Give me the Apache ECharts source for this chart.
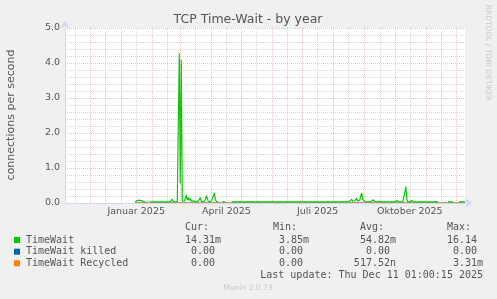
<!DOCTYPE html>
<html><head><meta charset="utf-8">
<script src="https://cdn.jsdelivr.net/npm/echarts@6/dist/echarts.min.js"></script>
<style>html,body{margin:0;padding:0;background:#F0F0F0;}#c{width:497px;height:299px;}</style>
</head><body><div id="c"></div>
<script>
// ---- data ----
const startDateUTC = [2024, 10, 6];   // first day shown (6 Nov 2024)
const dayCount = 400;
const timeWait = [
null,null,null,null,null,null,null,null,null,null,
null,null,null,null,null,null,null,null,null,null,
null,null,null,null,null,null,null,null,null,null,
null,null,null,null,null,null,null,null,null,null,
null,null,null,null,null,null,null,null,null,null,
null,null,null,null,null,null,null,null,null,null,
null,null,null,null,null,null,null,null,null,null,
0.03,0.05,0.07,0.08,0.08,0.08,0.07,0.05,0.04,0.03,
0.03,null,null,null,null,0.03,0.03,0.03,0.03,0.03,
0.03,0.03,0.02,0.03,0.03,0.03,0.03,0.03,0.02,0.03,
0.03,0.03,0.03,0.03,0.03,0.04,0.07,0.11,0.05,0.03,
0.03,0.03,0.03,0.04,4.28,0.56,4.09,0.06,0.03,0.05,
0.14,0.23,0.09,0.16,0.07,0.13,0.05,0.03,0.06,0.08,
0.05,0.03,0.03,0.05,0.10,0.16,0.05,0.03,0.03,0.04,
0.09,0.21,0.12,0.05,0.03,0.03,0.04,0.12,0.20,0.29,
0.10,0.04,0.06,0.03,null,null,null,0.03,0.03,0.03,
0.03,null,null,null,null,null,0.03,0.03,0.03,0.03,
0.03,0.03,0.03,0.03,0.04,0.05,0.03,0.03,0.03,0.03,
0.03,0.03,0.03,0.03,0.03,0.03,0.03,0.03,0.03,0.03,
0.03,0.03,0.03,0.04,0.03,0.03,0.03,0.03,0.03,0.03,
0.03,0.03,0.03,0.03,0.03,0.03,0.03,0.03,0.03,0.03,
0.03,0.03,0.03,0.03,0.03,0.03,0.03,0.03,0.03,0.03,
0.03,0.03,0.03,0.03,0.03,0.03,0.03,0.03,0.03,0.03,
0.03,0.03,0.03,0.03,0.03,0.03,0.03,0.03,0.03,0.03,
0.03,0.03,0.03,0.03,0.03,0.03,0.03,0.03,0.03,0.03,
0.03,0.03,0.03,0.03,0.03,0.03,0.03,0.03,0.03,0.03,
0.03,0.03,0.03,0.03,0.03,0.03,0.03,0.03,0.03,0.03,
0.03,0.03,0.03,0.03,0.03,0.03,0.03,0.05,0.03,0.03,
0.03,0.03,0.03,0.03,0.05,0.08,0.11,0.05,0.03,0.06,
0.10,0.14,0.05,0.03,0.08,0.20,0.29,0.10,0.15,0.04,
0.03,0.03,0.03,0.03,0.03,0.03,0.05,0.09,0.14,0.05,
0.03,0.03,0.03,0.05,0.03,0.03,0.05,0.03,0.06,0.03,
0.03,0.03,0.03,0.03,0.03,0.03,0.03,0.03,0.03,0.03,
0.04,0.07,0.04,0.03,0.03,0.03,0.03,0.03,0.05,0.30,
0.47,0.10,0.03,0.03,0.03,0.04,0.07,0.04,0.03,0.03,
0.03,0.03,0.03,0.03,0.03,0.03,0.03,0.04,0.03,0.03,
0.03,0.03,0.03,0.03,0.03,0.03,0.03,0.03,0.03,0.03,
0.04,0.06,0.03,null,null,null,null,null,null,null,
null,null,0.03,0.03,0.03,0.03,0.03,0.03,null,null,
null,null,null,0.03,0.03,0.03,0.03,0.03,0.03,0.03
];
const timeWaitKilled = [
null,null,null,null,null,null,null,null,null,null,
null,null,null,null,null,null,null,null,null,null,
null,null,null,null,null,null,null,null,null,null,
null,null,null,null,null,null,null,null,null,null,
null,null,null,null,null,null,null,null,null,null,
null,null,null,null,null,null,null,null,null,null,
null,null,null,null,null,null,null,null,null,null,
0,0,0,0,0,0,0,0,0,0, 0,0,0,0,0,0,0,0,0,0, 0,0,0,0,0,0,0,0,0,0,
0,0,0,0,0,0,0,0,0,0, 0,0,0,0,0,0,0,0,0,0, 0,0,0,0,0,0,0,0,0,0,
0,0,0,0,0,0,0,0,0,0, 0,0,0,0,0,0,0,0,0,0, 0,0,0,0,0,0,0,0,0,0,
0,0,0,0,0,0,0,0,0,0, 0,0,0,0,0,0,0,0,0,0, 0,0,0,0,0,0,0,0,0,0,
0,0,0,0,0,0,0,0,0,0, 0,0,0,0,0,0,0,0,0,0, 0,0,0,0,0,0,0,0,0,0,
0,0,0,0,0,0,0,0,0,0, 0,0,0,0,0,0,0,0,0,0, 0,0,0,0,0,0,0,0,0,0,
0,0,0,0,0,0,0,0,0,0, 0,0,0,0,0,0,0,0,0,0, 0,0,0,0,0,0,0,0,0,0,
0,0,0,0,0,0,0,0,0,0, 0,0,0,0,0,0,0,0,0,0, 0,0,0,0,0,0,0,0,0,0,
0,0,0,0,0,0,0,0,0,0, 0,0,0,0,0,0,0,0,0,0, 0,0,0,0,0,0,0,0,0,0,
0,0,0,0,0,0,0,0,0,0, 0,0,0,0,0,0,0,0,0,0, 0,0,0,0,0,0,0,0,0,0,
0,0,0,0,0,0,0,0,0,0, 0,0,0,0,0,0,0,0,0,0, 0,0,0,0,0,0,0,0,0,0
];
const timeWaitRecycled = [
null,null,null,null,null,null,null,null,null,null,
null,null,null,null,null,null,null,null,null,null,
null,null,null,null,null,null,null,null,null,null,
null,null,null,null,null,null,null,null,null,null,
null,null,null,null,null,null,null,null,null,null,
null,null,null,null,null,null,null,null,null,null,
null,null,null,null,null,null,null,null,null,null,
0,0,0,0,0,0,0,0,0,0, 0,0,0,0,0,0,0,0,0,0, 0,0,0,0,0,0,0,0,0,0,
0,0,0,0,0,0,0,0,0,0, 0,0,0,0,0,0,0,0,0,0, 0,0,0,0,0,0,0,0,0,0,
0,0,0,0,0,0,0,0,0,0, 0,0,0,0,0,0,0,0,0,0, 0,0,0,0,0,0,0,0,0,0,
0,0,0,0,0,0,0,0,0,0, 0,0,0,0,0,0,0,0,0,0, 0,0,0,0,0,0,0,0,0,0,
0,0,0,0,0,0,0,0,0,0, 0,0,0,0,0,0,0,0,0,0, 0,0,0,0,0,0,0,0,0,0,
0,0,0,0,0,0,0,0,0,0, 0,0,0,0,0,0,0,0,0,0, 0,0,0,0,0,0,0,0,0,0,
0,0,0,0,0,0,0,0,0,0, 0,0,0,0,0,0,0,0,0,0, 0,0,0,0,0,0,0,0,0,0,
0,0,0,0,0,0,0,0,0,0, 0,0,0,0,0,0,0,0,0,0, 0,0,0,0,0,0,0,0,0,0,
0,0,0,0,0,0,0,0,0,0, 0,0,0,0,0,0,0,0,0,0, 0,0,0,0,0,0,0,0,0,0,
0,0,0,0,0,0,0,0,0,0, 0,0,0,0,0,0,0,0,0,0, 0,0,0,0,0,0,0,0,0,0,
0,0,0,0,0,0,0,0,0,0, 0,0,0,0,0,0,0,0,0,0, 0,0,0,0,0,0,0,0,0,0
];
const xTickDates = ['2025-01-16', '2025-04-16', '2025-07-16', '2025-10-16'];
const xTickLabels = ['Januar 2025', 'April 2025', 'Juli 2025', 'Oktober 2025'];
const yMin = 0, yMax = 5, yStep = 1;
const seriesNames = ['TimeWait', 'TimeWait killed', 'TimeWait Recycled'];
const seriesColors = ['#00CC00', '#0066B3', '#FF8000'];
const colHeaders = ['Cur:', 'Min:', 'Avg:', 'Max:'];
const curValues = ['14.31m', '0.00 ', '0.00 '];
const minValues = ['3.85m', '0.00 ', '0.00 '];
const avgValues = ['54.82m', '0.00 ', '517.52n'];
const maxValues = ['16.14 ', '0.00 ', '3.31m'];
const titleText = 'TCP Time-Wait - by year';
const yAxisTitle = 'connections per second';
const lastUpdate = 'Last update: Thu Dec 11 01:00:15 2025';
const footer = 'Munin 2.0.73';
const sideText = 'RRDTOOL / TOBI OETIKER';

// ---- build ----
const days = [];
const t0 = Date.UTC(startDateUTC[0], startDateUTC[1], startDateUTC[2]);
for (let i = 0; i < dayCount; i++) days.push(new Date(t0 + i * 86400000).toISOString().slice(0, 10));

const RED = 'rgba(230,100,100,0.42)';
const GREY = 'rgba(150,150,150,0.38)';
const AXIS = '#CFD6F8';
const FONT = '#555555';
const isMonthStart = (i, v) => v.slice(8) === '01';
const isMid = (i, v) => v.slice(8) === '16';
const isLabel = (i, v) => xTickDates.indexOf(v) >= 0;

const chart = echarts.init(document.getElementById('c'), null, {renderer: 'canvas'});

const gridLeft = 65, gridTop = 28, gridW = 400, gridH = 175;
const mono = 'DejaVu Sans Mono';
const rowY = [240, 251.7, 263.3];
const colRight = [221, 309, 396, 483];
const colLeft = [185, 273, 360, 447];
const graphics = [
  {type: 'text', x: 248, y: 19.5, style: {text: titleText, fill: FONT, font: '12.5px "DejaVu Sans"', align: 'center', verticalAlign: 'middle'}},
  {type: 'text', x: 11, y: 115, rotation: Math.PI / 2, style: {text: yAxisTitle, fill: FONT, font: '11px "DejaVu Sans"', align: 'center', verticalAlign: 'middle'}},
  {type: 'text', x: 488, y: 53, rotation: -Math.PI / 2, style: {text: sideText, fill: '#C8C8C8', font: '7.5px "DejaVu Sans"', align: 'center', verticalAlign: 'middle'}},
  {type: 'text', x: 248, y: 288, style: {text: footer, fill: '#C8C8C8', font: '7.5px "DejaVu Sans"', align: 'center', verticalAlign: 'middle'}},
  {type: 'text', x: 483, y: 275.5, style: {text: lastUpdate, fill: FONT, font: '10px "' + mono + '"', align: 'right', verticalAlign: 'middle'}}
];
colHeaders.forEach((h, k) => graphics.push({type: 'text', x: colLeft[k], y: 227.5, style: {text: h, fill: FONT, font: '10px "' + mono + '"', align: 'left', verticalAlign: 'middle'}}));
const cols = [curValues, minValues, avgValues, maxValues];
seriesNames.forEach((n, r) => {
  graphics.push({type: 'rect', shape: {x: 14, y: rowY[r] - 3, width: 6, height: 6}, style: {fill: seriesColors[r]}});
  graphics.push({type: 'text', x: 26, y: rowY[r], style: {text: n, fill: FONT, font: '10px "' + mono + '"', align: 'left', verticalAlign: 'middle'}});
  cols.forEach((c, k) => graphics.push({type: 'text', x: colRight[k], y: rowY[r], style: {text: c[r], fill: FONT, font: '10px "' + mono + '"', align: 'right', verticalAlign: 'middle'}}));
});

const xBase = {type: 'category', data: days, boundaryGap: false, gridIndex: 0};
chart.setOption({
  backgroundColor: '#F0F0F0',
  animation: false,
  grid: {left: gridLeft, top: gridTop, width: gridW, height: gridH, show: true, backgroundColor: '#FFFFFF', borderWidth: 0},
  xAxis: [
    Object.assign({}, xBase, {
      z: 5,
      axisLine: {show: true, lineStyle: {color: AXIS, width: 1}, symbol: ['none', 'arrow'], symbolSize: [7, 7], symbolOffset: [0, 7]},
      axisTick: {show: false},
      axisLabel: {interval: isLabel, formatter: v => xTickLabels[xTickDates.indexOf(v)], color: FONT, fontFamily: 'DejaVu Sans', fontSize: 9.5, margin: 4},
      splitLine: {show: true, interval: isMonthStart, lineStyle: {color: RED, type: [1, 1], width: 1}}
    }),
    Object.assign({}, xBase, {
      z: 1,
      axisLine: {show: false}, axisTick: {show: false}, axisLabel: {show: false},
      splitLine: {show: true, interval: isMid, lineStyle: {color: GREY, type: [1, 1], width: 1}}
    })
  ],
  yAxis: {
    type: 'value', min: yMin, max: yMax, interval: yStep, z: 5,
    axisLine: {show: true, lineStyle: {color: AXIS, width: 1}, symbol: ['none', 'arrow'], symbolSize: [7, 7], symbolOffset: [0, 7]},
    axisTick: {show: false},
    axisLabel: {formatter: v => v.toFixed(1), color: FONT, fontFamily: 'DejaVu Sans', fontSize: 9.5, margin: 5},
    splitLine: {show: true, lineStyle: {color: RED, type: [1, 1], width: 1}},
    minorTick: {show: false, splitNumber: 5},
    minorSplitLine: {show: true, lineStyle: {color: GREY, type: [1, 1], width: 1}}
  },
  series: [
    {name: seriesNames[1], type: 'line', data: timeWaitKilled, showSymbol: false, z: 1, lineStyle: {color: seriesColors[1], width: 1}, connectNulls: false},
    {name: seriesNames[2], type: 'line', data: timeWaitRecycled, showSymbol: false, z: 1, lineStyle: {color: seriesColors[2], width: 1}, connectNulls: false},
    {name: seriesNames[0], type: 'line', data: timeWait, showSymbol: false, z: 3, lineStyle: {color: seriesColors[0], width: 1.2}, connectNulls: false}
  ],
  graphic: graphics
});
</script>
</body></html>
